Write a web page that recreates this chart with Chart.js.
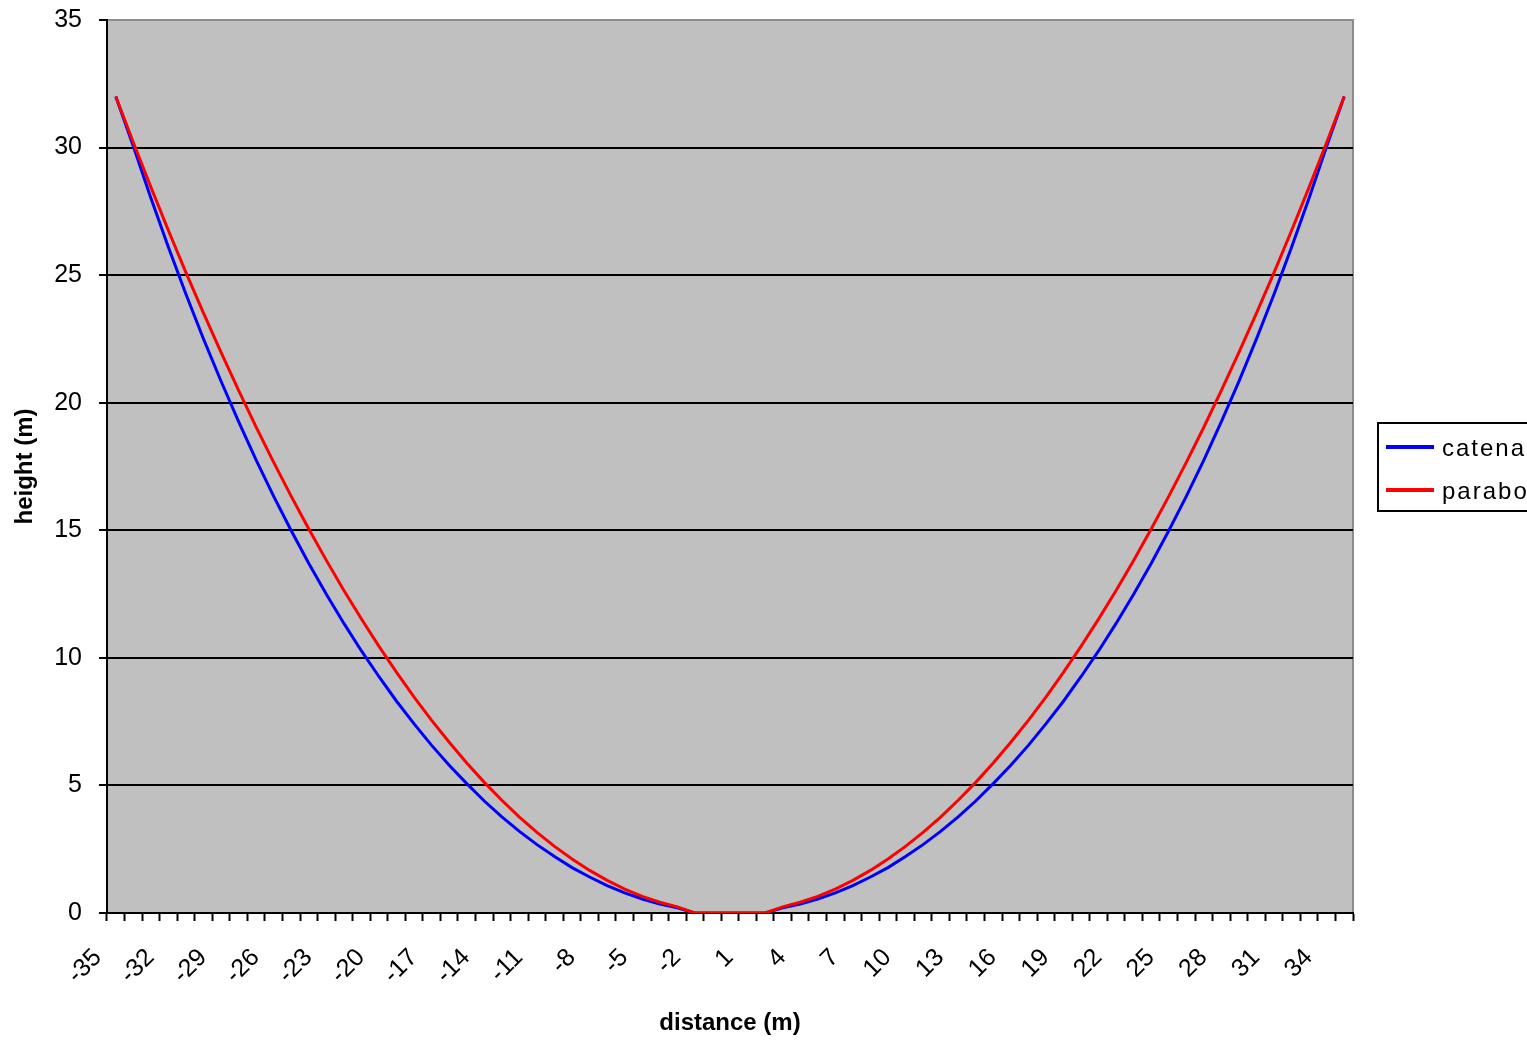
<!DOCTYPE html>
<html>
<head>
<meta charset="utf-8">
<script src="https://cdn.jsdelivr.net/npm/chart.js@4.4.1/dist/chart.umd.min.js"></script>
<style>
  html, body { margin: 0; padding: 0; background: #fff; }
  #wrap { width: 1527px; height: 1043px; }
</style>
</head>
<body>
<div id="wrap"><canvas id="chart"></canvas></div>
<script>
const distances = ["-35", "-34", "-33", "-32", "-31", "-30", "-29", "-28", "-27", "-26", "-25", "-24",
  "-23", "-22", "-21", "-20", "-19", "-18", "-17", "-16", "-15", "-14", "-13", "-12", "-11", "-10",
  "-9", "-8", "-7", "-6", "-5", "-4", "-3", "-2", "-1", "0", "1", "2", "3", "4", "5", "6", "7", "8",
  "9", "10", "11", "12", "13", "14", "15", "16", "17", "18", "19", "20", "21", "22", "23", "24", "25",
  "26", "27", "28", "29", "30", "31", "32", "33", "34", "35"];

const catenary = [32.00, 30.05, 28.02, 26.09, 24.25, 22.50, 20.84, 19.26, 17.75, 16.33, 14.98, 13.70,
  12.49, 11.35, 10.27, 9.26, 8.30, 7.41, 6.57, 5.79, 5.07, 4.39, 3.77, 3.20, 2.68, 2.21, 1.78, 1.41,
  1.07, 0.79, 0.55, 0.35, 0.20, 0, 0, 0, 0, 0, 0.20, 0.35, 0.55, 0.79, 1.07, 1.41, 1.78, 2.21, 2.68,
  3.20, 3.77, 4.39, 5.07, 5.79, 6.57, 7.41, 8.30, 9.26, 10.27, 11.35, 12.49, 13.70, 14.98, 16.33,
  17.75, 19.26, 20.84, 22.50, 24.25, 26.09, 28.02, 30.05, 32.00];

const parabola = [32.00, 30.20, 28.45, 26.75, 25.10, 23.51, 21.97, 20.48, 19.04, 17.66, 16.33, 15.05,
  13.82, 12.64, 11.52, 10.45, 9.43, 8.46, 7.55, 6.69, 5.88, 5.12, 4.42, 3.76, 3.16, 2.61, 2.12, 1.67,
  1.28, 0.94, 0.65, 0.42, 0.24, 0, 0, 0, 0, 0, 0.24, 0.42, 0.65, 0.94, 1.28, 1.67, 2.12, 2.61, 3.16,
  3.76, 4.42, 5.12, 5.88, 6.69, 7.55, 8.46, 9.43, 10.45, 11.52, 12.64, 13.82, 15.05, 16.33, 17.66,
  19.04, 20.48, 21.97, 23.51, 25.10, 26.75, 28.45, 30.20, 32.00];

const seriesNames = ["catenary", "parabola"];
const seriesColors = ["#0000ff", "#ff0000"];

const FONT = "'Liberation Sans', Arial, sans-serif";

// grey plot area + border
const plotBackground = {
  id: "plotBackground",
  beforeDraw(chart) {
    const { ctx, chartArea: a } = chart;
    ctx.save();
    ctx.fillStyle = "#c0c0c0";
    ctx.fillRect(a.left, a.top, a.right - a.left, a.bottom - a.top);
    ctx.strokeStyle = "#8c8c8c";
    ctx.lineWidth = 2;
    ctx.beginPath();
    ctx.moveTo(a.left, a.top);
    ctx.lineTo(a.right, a.top);
    ctx.lineTo(a.right, a.bottom);
    ctx.stroke();
    ctx.restore();
  },
};

// boxed legend on the right, runs off the canvas edge like the original
const boxLegend = {
  id: "boxLegend",
  afterDraw(chart) {
    const { ctx } = chart;
    const x = 1378, y = 423;
    ctx.save();
    ctx.strokeStyle = "#000";
    ctx.lineWidth = 2;
    ctx.strokeRect(x, y, 220, 88);
    ctx.font = `24px ${FONT}`;
    ctx.letterSpacing = "2px";
    ctx.textBaseline = "middle";
    ctx.fillStyle = "#000";
    chart.data.datasets.slice().sort((p, q) => seriesNames.indexOf(p.label) - seriesNames.indexOf(q.label))
      .forEach((ds, i) => {
        const ly = y + 24 + i * 43;
        ctx.strokeStyle = ds.borderColor;
        ctx.lineWidth = 4;
        ctx.beginPath();
        ctx.moveTo(x + 8, ly);
        ctx.lineTo(x + 56, ly);
        ctx.stroke();
        ctx.fillText(ds.label, x + 64, ly + 2);
      });
    ctx.restore();
  },
};

new Chart(document.getElementById("chart"), {
  type: "line",
  data: {
    labels: distances,
    datasets: [
      {
        label: seriesNames[0],
        data: catenary,
        borderColor: seriesColors[0],
        borderWidth: 3,
        pointRadius: 0,
        order: 1,
      },
      {
        label: seriesNames[1],
        data: parabola,
        borderColor: seriesColors[1],
        borderWidth: 3,
        pointRadius: 0,
        order: 0,
      },
    ],
  },
  options: {
    responsive: true,
    maintainAspectRatio: false,
    animation: false,
    layout: { padding: { left: 0, top: 20, right: 174, bottom: 0 } },
    plugins: {
      legend: { display: false },
      tooltip: { enabled: false },
    },
    scales: {
      x: {
        offset: true,
        afterFit(scale) { scale.height = 130; },
        border: { color: "#000", width: 2 },
        grid: {
          offset: true,
          drawOnChartArea: false,
          drawTicks: true,
          tickLength: 8,
          tickColor: "#000",
          tickWidth: 2,
        },
        ticks: {
          autoSkip: false,
          maxRotation: 45,
          minRotation: 45,
          padding: 22,
          labelOffset: -18,
          color: "#000",
          font: { family: FONT, size: 25 },
          callback(value, index) {
            return index % 3 === 0 ? this.getLabelForValue(value) : "";
          },
        },
        title: {
          display: true,
          text: "distance (m)",
          color: "#000",
          font: { family: FONT, size: 24, weight: "bold" },
          padding: { top: 0, bottom: 5 },
        },
      },
      y: {
        min: 0,
        max: 35,
        afterFit(scale) {
          scale.width = 107;
          scale.paddingTop = 0;
          scale.paddingBottom = 0;
        },
        border: { color: "#000", width: 2 },
        grid: {
          color: (c) => (c.tick && c.tick.value === 35 ? "#8c8c8c" : "#000"),
          lineWidth: 2,
          drawTicks: true,
          tickLength: 8,
          tickColor: "#000",
        },
        ticks: {
          stepSize: 5,
          padding: 17,
          color: "#000",
          font: { family: FONT, size: 25 },
        },
        title: {
          display: true,
          text: "height (m)",
          color: "#000",
          font: { family: FONT, size: 24, weight: "bold" },
          padding: { top: 11, bottom: 0 },
        },
      },
    },
  },
  plugins: [plotBackground, boxLegend],
});
</script>
</body>
</html>
